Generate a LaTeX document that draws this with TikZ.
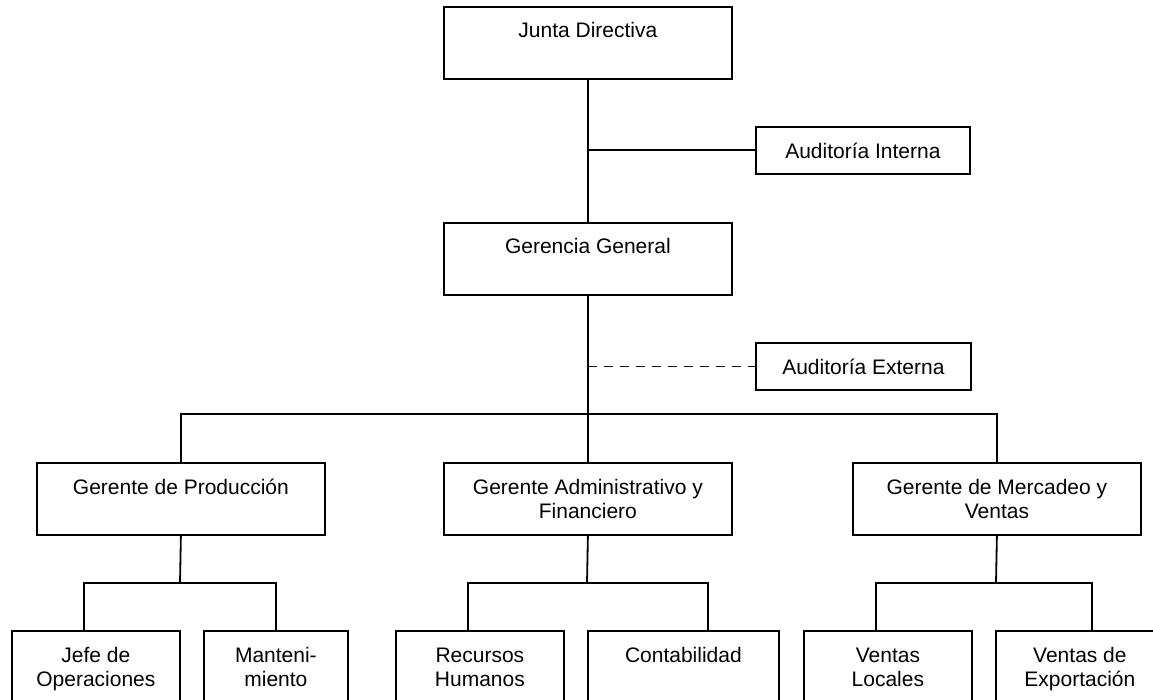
\documentclass[tikz,border=0pt]{standalone}
\usepackage{fontspec}
\setmainfont{Liberation Sans}
\begin{document}
\begin{tikzpicture}[x=1pt,y=-1pt,
  box/.style={draw, line width=1.8pt, inner sep=0pt, anchor=north west},
  txt/.style={inner sep=0pt, anchor=base, align=center, font=\fontsize{21}{24}\selectfont},
  link/.style={line width=1.8pt},
  dlink/.style={line width=1.8pt, dash pattern=on 9pt off 7pt}]
\useasboundingbox (0,0) rectangle (1153,700);
\fill[white] (0,0) rectangle (1153,700);
\clip (0,0) rectangle (1153,700);

% boxes
\node[box, minimum width=288pt, minimum height=72pt] (jd) at (443,6) {};
\node[box, minimum width=214pt, minimum height=47pt, font=\fontsize{21}{24}\selectfont] (ai) at (755,126) {Auditoría Interna};
\node[box, minimum width=288pt, minimum height=72pt] (gg) at (443,222) {};
\node[box, minimum width=215pt, minimum height=47pt, font=\fontsize{21}{24}\selectfont] (ae) at (755,342) {Auditoría Externa};
\node[box, minimum width=288pt, minimum height=72pt] (gp) at (36,462) {};
\node[box, minimum width=288pt, minimum height=72pt] (ga) at (443,462) {};
\node[box, minimum width=288pt, minimum height=72pt] (gm) at (852,462) {};
\node[box, minimum width=168pt, minimum height=72pt] (jefe) at (11,630) {};
\node[box, minimum width=144pt, minimum height=72pt] (mant) at (203,630) {};
\node[box, minimum width=168pt, minimum height=72pt] (rh) at (395,630) {};
\node[box, minimum width=191pt, minimum height=72pt] (cont) at (587,630) {};
\node[box, minimum width=168pt, minimum height=72pt] (vl) at (803,630) {};
\node[box, minimum width=168pt, minimum height=72pt] (ve) at (995,630) {};

% texts (base anchor = baseline of the last line)
\node[txt] (jdt) at ([yshift=-32pt]jd.north) {Junta Directiva};
\node[txt] (ggt) at ([yshift=-32pt]gg.north) {Gerencia General};
\node[txt] (gpt) at ([yshift=-32pt]gp.north) {Gerente de Producción};
\node[txt] (gat) at ([yshift=-56pt]ga.north) {Gerente Administrativo y\\Financiero};
\node[txt] (gmt) at ([yshift=-56pt]gm.north) {Gerente de Mercadeo y\\Ventas};
\node[txt] (jefet) at ([yshift=-56pt]jefe.north) {Jefe de\\Operaciones};
\node[txt] (mantt) at ([yshift=-56pt]mant.north) {Manteni-\\miento};
\node[txt] (rht) at ([yshift=-56pt]rh.north) {Recursos\\Humanos};
\node[txt] (contt) at ([yshift=-32pt]cont.north) {Contabilidad};
\node[txt] (vlt) at ([yshift=-56pt]vl.north) {Ventas\\Locales};
\node[txt] (vet) at ([yshift=-56pt]ve.north) {Ventas de\\Exportación};

% connectors
\coordinate (br) at (587,414);
\coordinate (pb) at (180,583);
\coordinate (jtop) at (84,630);
\coordinate (ab) at (587,583);
\coordinate (rtop) at (468,630);
\coordinate (ctop) at (708,630);
\coordinate (mb) at (996,583);
\coordinate (vltop) at (876,630);
\coordinate (vetop) at (1092,630);

\draw[link] (jd.south) -- (gg.north);
\draw[link] (jd.south |- ai.west) -- (ai.west);
\draw[link] (gg.south) -- (ga.north);
\draw[dlink] (gg.south |- ae.west) -- (ae.west);
\draw[link] (gp.north) |- (br) -| (gm.north);

\draw[link] (gp.south) -- (pb);
\draw[link] (jtop) |- (pb) -| (mant.north);
\draw[link] (ga.south) -- (ab);
\draw[link] (rtop) |- (ab) -| (ctop);
\draw[link] (gm.south) -- (mb);
\draw[link] (vltop) |- (mb) -| (vetop);
\end{tikzpicture}
\end{document}
